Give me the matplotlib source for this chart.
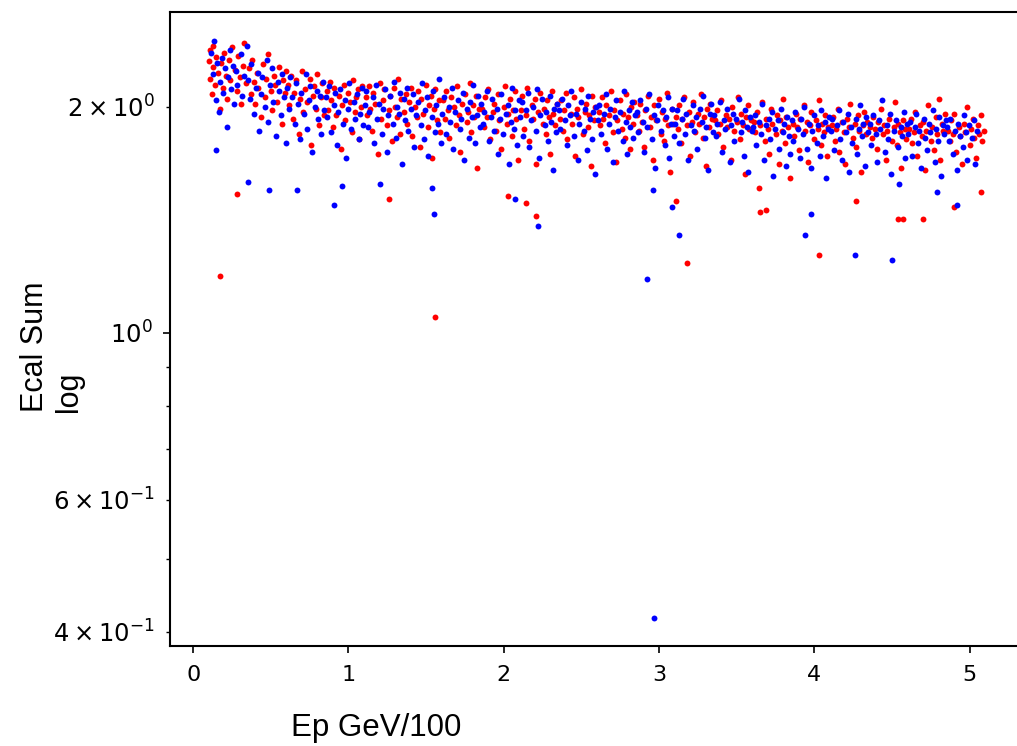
import matplotlib
matplotlib.use('Agg')
import matplotlib.pyplot as plt

# Ep GeV/100 und Ecal Sum (geschätzt)
red_x = [0.10,0.11,0.11,0.12,0.13,0.13,0.14,0.15,0.16,0.17,0.18,0.19,0.20,0.21,0.22,0.23,0.24,0.25,0.27,0.28,0.29,0.30,0.31,0.32,0.33,0.34,
         0.36,0.37,0.38,0.39,0.40,0.41,0.42,0.44,0.45,0.46,0.47,0.48,0.50,0.51,0.52,0.53,0.54,0.55,0.57,0.58,0.59,0.60,
         0.61,0.62,0.63,0.64,0.65,0.66,0.68,0.69,0.70,0.71,0.72,0.73,0.75,0.76,0.77,0.78,0.79,0.80,0.81,0.82,0.83,0.84,
         0.86,0.87,0.88,0.89,0.90,0.91,0.92,0.94,0.95,0.96,0.97,0.98,1.00,1.01,1.02,1.03,1.04,1.05,1.06,1.07,1.08,1.09,
         1.11,1.12,1.13,1.14,1.15,1.16,1.17,1.19,1.20,1.21,1.22,1.23,1.25,1.26,1.27,1.28,1.29,1.30,1.31,1.32,1.33,1.34,
         1.36,1.37,1.38,1.39,1.40,1.41,1.43,1.44,1.45,1.46,1.47,1.48,1.50,1.51,1.52,1.53,1.54,1.55,1.56,1.57,1.58,1.59,
         1.61,1.62,1.63,1.64,1.65,1.66,1.68,1.69,1.70,1.71,1.72,1.73,1.75,1.76,1.77,1.78,1.79,1.80,1.81,1.82,1.83,1.84,
         1.86,1.87,1.88,1.89,1.90,1.91,1.93,1.94,1.95,1.96,1.97,1.98,2.00,2.01,2.02,2.03,2.04,2.05,2.06,2.07,2.08,2.09,
         2.11,2.12,2.13,2.14,2.15,2.16,2.18,2.19,2.20,2.21,2.22,2.23,2.25,2.26,2.27,2.28,2.29,2.30,2.31,2.32,2.33,2.34,
         2.36,2.37,2.38,2.39,2.40,2.41,2.43,2.44,2.45,2.46,2.47,2.48,2.50,2.51,2.52,2.53,2.54,2.55,2.56,2.57,2.58,2.59,
         2.61,2.62,2.63,2.64,2.65,2.66,2.68,2.69,2.70,2.71,2.72,2.73,2.75,2.76,2.77,2.78,2.79,2.80,2.81,2.82,2.83,2.84,
         2.86,2.87,2.88,2.89,2.90,2.91,2.93,2.94,2.95,2.96,2.97,2.98,3.00,3.01,3.02,3.03,3.04,3.05,3.06,3.07,3.08,3.09,
         3.11,3.12,3.13,3.14,3.15,3.16,3.18,3.19,3.20,3.21,3.22,3.23,3.25,3.26,3.27,3.28,3.29,3.30,3.31,3.32,3.33,3.34,
         3.36,3.37,3.38,3.39,3.40,3.41,3.43,3.44,3.45,3.46,3.47,3.48,3.50,3.51,3.52,3.53,3.54,3.55,3.56,3.57,3.58,3.59,
         3.61,3.62,3.63,3.64,3.65,3.66,3.68,3.69,3.70,3.71,3.72,3.73,3.75,3.76,3.77,3.78,3.79,3.80,3.81,3.82,3.83,3.84,
         3.86,3.87,3.88,3.89,3.90,3.91,3.93,3.94,3.95,3.96,3.97,3.98,4.00,4.01,4.02,4.03,4.04,4.05,4.06,4.07,4.08,4.09,
         4.11,4.12,4.13,4.14,4.15,4.16,4.18,4.19,4.20,4.21,4.22,4.23,4.25,4.26,4.27,4.28,4.29,4.30,4.31,4.32,4.33,4.34,
         4.36,4.37,4.38,4.39,4.40,4.41,4.43,4.44,4.45,4.46,4.47,4.48,4.50,4.51,4.52,4.53,4.54,4.55,4.56,4.57,4.58,4.59,
         4.61,4.62,4.63,4.64,4.65,4.66,4.68,4.69,4.70,4.71,4.72,4.73,4.75,4.76,4.77,4.78,4.79,4.80,4.81,4.82,4.83,4.84,
         4.86,4.87,4.88,4.89,4.90,4.91,4.93,4.94,4.95,4.96,4.97,4.98,5.00,5.01,5.02,5.03,5.04,5.05,5.06,5.07,5.08,5.09]
red_y = [2.30,2.18,2.38,2.08,2.26,2.41,2.14,2.33,2.22,1.99,2.29,2.12,2.36,2.20,2.05,2.31,2.17,2.40,2.24,2.10,2.34,2.19,2.02,2.27,2.43,2.15,
         2.25,2.08,2.31,2.16,2.02,2.22,2.12,1.94,2.28,2.06,2.18,2.35,2.10,1.98,2.20,2.14,2.03,2.26,1.90,2.17,2.09,2.23,
         2.14,2.01,2.20,1.93,2.09,2.17,1.84,2.05,2.23,1.97,2.11,2.03,2.18,1.78,2.07,2.13,1.99,2.21,1.89,2.06,2.15,1.95,
         2.10,1.98,2.16,2.04,1.88,2.12,1.95,2.07,1.76,2.01,2.14,1.92,2.09,2.03,1.85,2.17,1.97,2.06,2.11,1.81,2.00,2.13,
         2.06,1.95,2.13,1.99,1.86,2.09,2.02,1.73,2.15,1.93,2.04,2.11,1.89,1.98,2.07,1.80,2.12,2.00,1.94,2.18,1.84,2.05,
         1.97,2.08,1.90,2.03,2.12,1.83,2.00,1.94,2.10,1.77,2.05,1.96,2.14,1.88,2.01,2.07,1.71,1.99,2.11,1.92,2.04,1.85,
         2.04,1.93,2.10,1.98,1.82,2.06,2.00,1.89,2.13,1.95,1.74,2.02,2.08,1.91,1.97,2.15,1.85,2.01,1.94,2.07,1.66,1.99,
         1.99,1.88,2.06,1.94,2.11,1.81,1.97,2.02,1.86,2.08,1.92,1.76,2.00,2.13,1.90,1.96,2.05,1.83,1.98,2.10,1.93,1.70,
         1.98,2.07,1.87,1.95,2.12,1.80,2.01,1.93,2.05,1.68,1.97,2.09,1.90,1.99,1.84,2.04,1.94,1.73,2.10,1.96,1.89,2.02,
         1.93,2.04,1.86,1.98,2.09,1.81,1.96,1.90,2.06,1.72,1.99,1.94,2.11,1.84,1.97,2.02,1.88,1.95,1.67,2.07,1.92,2.00,
         1.97,1.89,2.06,1.93,1.79,2.01,1.95,2.10,1.85,1.98,1.69,1.92,2.04,1.87,1.96,1.82,2.08,1.94,1.76,2.00,1.90,2.03,
         1.95,1.86,2.02,1.91,1.77,1.98,2.07,1.88,1.94,1.70,2.01,1.92,2.05,1.84,1.97,1.80,1.93,2.09,1.89,1.64,1.99,1.90,
         1.94,1.87,2.01,1.79,1.93,2.06,1.89,1.97,1.72,1.91,2.03,1.85,1.96,1.90,2.08,1.82,1.94,1.67,1.99,1.88,2.02,1.93,
         1.92,1.98,1.84,1.90,2.04,1.77,1.95,1.88,1.93,1.70,2.00,1.86,1.91,2.06,1.81,1.96,1.89,1.63,1.94,2.01,1.87,1.92,
         1.91,1.85,1.97,1.56,1.89,2.03,1.80,1.93,1.87,1.73,1.99,1.90,1.84,1.95,1.68,1.92,1.86,2.05,1.79,1.94,1.88,1.61,
         1.90,1.83,1.96,1.88,1.75,1.93,2.01,1.86,1.91,1.69,1.89,1.97,1.81,1.92,1.87,2.04,1.78,1.90,1.85,1.95,1.72,1.88,
         1.89,1.94,1.80,1.87,1.99,1.74,1.91,1.85,1.68,1.93,1.88,2.02,1.82,1.90,1.77,1.95,1.86,1.64,1.89,1.97,1.84,1.91,
         1.88,1.82,1.94,1.87,1.76,1.91,1.99,1.84,1.89,1.70,1.86,1.93,1.80,1.88,2.03,1.78,1.90,1.85,1.66,1.92,1.87,1.81,
         1.87,1.93,1.79,1.85,1.97,1.72,1.89,1.83,1.91,1.65,1.86,2.01,1.80,1.88,1.75,1.94,1.84,2.05,1.70,1.90,1.86,1.96,
         1.86,1.80,1.92,1.84,1.96,1.74,1.88,1.83,1.68,1.90,1.85,2.00,1.78,1.87,1.93,1.82,1.71,1.89,1.84,1.95,1.80,1.86]
# Ausreißer rot
red_out_x = [0.17,0.28,1.26,1.56,2.03,2.14,2.21,3.11,3.18,3.65,3.69,4.03,4.27,4.54,4.57,4.70,4.90,5.07]
red_out_y = [1.19,1.53,1.51,1.05,1.52,1.49,1.43,1.50,1.24,1.45,1.46,1.27,1.50,1.42,1.42,1.42,1.47,1.54]

blue_x = [0.115,0.125,0.135,0.145,0.155,0.165,0.175,0.185,0.195,0.205,0.215,0.225,0.235,0.245,0.255,0.265,0.275,0.285,0.305,0.315,0.325,0.345,
          0.355,0.365,0.375,0.395,0.405,0.415,0.425,0.435,0.445,0.465,0.475,0.485,0.495,0.505,0.515,0.535,0.545,0.555,0.565,0.575,0.585,0.595,
          0.605,0.615,0.625,0.635,0.655,0.665,0.675,0.685,0.695,0.715,0.725,0.735,0.745,0.755,0.765,0.785,0.795,0.805,0.815,0.825,0.835,0.845,
          0.855,0.865,0.875,0.885,0.905,0.915,0.925,0.935,0.945,0.965,0.975,0.985,0.995,1.005,1.015,1.035,1.045,1.055,1.065,1.075,1.085,1.095,
          1.105,1.115,1.125,1.135,1.155,1.165,1.175,1.185,1.195,1.215,1.225,1.235,1.245,1.255,1.265,1.285,1.295,1.305,1.315,1.325,1.335,1.345,
          1.355,1.365,1.375,1.385,1.405,1.415,1.425,1.435,1.445,1.465,1.475,1.485,1.495,1.505,1.515,1.535,1.545,1.555,1.565,1.575,1.585,1.595,
          1.605,1.615,1.625,1.645,1.655,1.665,1.675,1.685,1.705,1.715,1.725,1.735,1.745,1.765,1.775,1.785,1.795,1.805,1.815,1.825,1.835,1.845,
          1.855,1.865,1.875,1.895,1.905,1.915,1.925,1.935,1.955,1.965,1.975,1.985,1.995,2.015,2.025,2.035,2.045,2.055,2.065,2.075,2.085,2.095,
          2.105,2.115,2.125,2.145,2.155,2.165,2.175,2.185,2.205,2.215,2.225,2.235,2.245,2.265,2.275,2.285,2.295,2.305,2.315,2.325,2.335,2.345,
          2.355,2.365,2.375,2.395,2.405,2.415,2.425,2.435,2.455,2.465,2.475,2.485,2.495,2.515,2.525,2.535,2.545,2.555,2.565,2.575,2.585,2.595,
          2.605,2.615,2.625,2.645,2.655,2.665,2.675,2.685,2.705,2.715,2.725,2.735,2.745,2.765,2.775,2.785,2.795,2.805,2.815,2.825,2.835,2.845,
          2.855,2.865,2.875,2.895,2.905,2.915,2.925,2.935,2.955,2.965,2.975,2.985,2.995,3.015,3.025,3.035,3.045,3.055,3.065,3.075,3.085,3.095,
          3.105,3.115,3.125,3.145,3.155,3.165,3.175,3.185,3.205,3.215,3.225,3.235,3.245,3.265,3.275,3.285,3.295,3.305,3.315,3.325,3.335,3.345,
          3.355,3.365,3.375,3.395,3.405,3.415,3.425,3.435,3.455,3.465,3.475,3.485,3.495,3.515,3.525,3.535,3.545,3.555,3.565,3.575,3.585,3.595,
          3.605,3.615,3.625,3.645,3.655,3.665,3.675,3.685,3.705,3.715,3.725,3.735,3.745,3.765,3.775,3.785,3.795,3.805,3.815,3.825,3.835,3.845,
          3.855,3.865,3.875,3.895,3.905,3.915,3.925,3.935,3.955,3.965,3.975,3.985,3.995,4.015,4.025,4.035,4.045,4.055,4.065,4.075,4.085,4.095,
          4.105,4.115,4.125,4.145,4.155,4.165,4.175,4.185,4.205,4.215,4.225,4.235,4.245,4.265,4.275,4.285,4.295,4.305,4.315,4.325,4.335,4.345,
          4.355,4.365,4.375,4.395,4.405,4.415,4.425,4.435,4.455,4.465,4.475,4.485,4.495,4.515,4.525,4.535,4.545,4.555,4.565,4.575,4.585,4.595,
          4.605,4.615,4.625,4.645,4.655,4.665,4.675,4.685,4.705,4.715,4.725,4.735,4.745,4.765,4.775,4.785,4.795,4.805,4.815,4.825,4.835,4.845,
          4.855,4.865,4.875,4.895,4.905,4.915,4.925,4.935,4.955,4.965,4.975,4.985,4.995,5.015,5.025,5.035,5.045]
blue_y = [2.36,2.21,2.45,2.04,2.29,1.97,2.16,2.32,2.09,2.25,1.88,2.19,2.38,2.11,2.27,2.02,2.23,2.14,2.35,2.07,2.20,2.41,
          2.17,2.05,2.28,1.96,2.12,2.22,1.86,2.08,2.19,2.00,2.31,1.91,2.14,2.25,2.03,1.83,2.16,2.10,1.95,2.21,2.06,1.79,
          2.12,1.99,2.19,2.06,1.90,2.15,2.02,1.81,2.09,1.96,2.21,1.87,2.04,2.13,1.74,2.00,2.10,1.93,2.07,1.84,2.16,1.98,
          2.06,1.94,2.13,1.85,2.01,2.09,1.78,1.97,2.11,1.90,2.04,1.71,1.99,2.15,1.87,2.03,1.93,2.08,1.81,1.96,2.12,1.89,
          2.01,2.10,1.88,1.97,2.06,1.79,2.14,1.93,2.02,1.84,1.99,2.11,1.74,1.95,2.07,1.90,2.16,1.82,2.00,1.96,2.09,1.68,
          2.05,1.92,2.12,1.86,1.99,2.08,1.77,1.95,2.03,1.89,2.15,1.81,1.98,2.06,1.72,1.94,2.10,1.85,2.01,1.90,2.18,1.79,
          1.96,2.06,1.84,2.00,1.91,2.12,1.76,1.97,2.04,1.87,1.93,2.09,1.70,1.99,1.82,2.03,1.94,2.14,1.79,1.95,2.07,1.88,
          2.02,1.90,1.97,2.10,1.80,1.94,2.05,1.86,1.99,1.73,1.93,2.08,1.84,1.96,2.01,1.68,1.91,2.12,1.87,1.98,1.78,2.04,
          1.94,2.03,1.83,1.98,2.09,1.77,1.92,2.00,1.86,2.11,1.71,1.95,2.05,1.89,1.97,1.80,2.07,1.91,1.65,1.99,1.85,2.02,
          1.98,1.87,2.05,1.92,1.78,2.01,1.95,2.10,1.83,1.96,1.70,1.90,2.03,1.86,1.99,1.75,2.07,1.93,1.81,1.97,1.63,2.00,
          1.92,2.01,1.84,1.96,2.08,1.76,1.90,1.99,1.69,1.94,2.04,1.86,1.97,1.80,2.10,1.91,1.73,1.98,1.88,2.03,1.82,1.95,
          1.97,1.85,2.04,1.91,1.74,1.99,1.88,2.08,1.81,1.95,1.66,1.92,2.01,1.86,1.98,1.78,1.94,2.06,1.71,1.90,1.99,1.83,
          1.90,1.98,1.79,1.93,2.05,1.84,1.96,1.70,1.89,2.01,1.86,1.94,1.76,1.99,1.91,2.07,1.82,1.88,1.65,1.96,2.02,1.85,
          1.95,1.83,1.90,2.03,1.74,1.92,1.87,1.99,1.69,1.89,1.96,1.80,1.93,2.05,1.85,1.91,1.72,1.98,1.88,1.64,1.94,1.86,
          1.88,1.95,1.78,1.91,1.84,2.02,1.70,1.89,1.93,1.81,1.97,1.62,1.87,1.92,1.76,1.99,1.85,1.90,1.67,1.94,1.83,1.73,
          1.92,1.80,1.97,1.87,1.71,1.93,1.84,2.00,1.76,1.90,1.66,1.86,1.95,1.79,1.89,1.72,1.98,1.83,1.91,1.61,1.87,1.94,
          1.86,1.93,1.75,1.89,1.98,1.81,1.70,1.91,1.85,1.96,1.64,1.88,1.79,1.93,1.73,1.87,2.01,1.83,1.90,1.67,1.94,1.85,
          1.90,1.78,1.95,1.84,1.69,1.92,1.87,2.04,1.74,1.89,1.81,1.96,1.63,1.86,1.92,1.77,1.58,1.88,1.83,1.97,1.71,1.90,
          1.84,1.91,1.72,1.88,1.96,1.79,1.86,1.66,1.93,1.82,1.75,1.90,1.85,1.98,1.69,1.87,1.80,1.94,1.62,1.89,1.84,1.92,
          1.88,1.80,1.93,1.73,1.86,1.65,1.90,1.83,1.77,1.95,1.85,1.70,1.89,1.82,1.92,1.68,1.86]
# Ausreißer blau
blue_out_x = [0.15,0.35,0.49,0.67,0.91,0.96,1.20,1.54,1.55,2.07,2.22,2.92,2.96,2.97,3.08,3.13,3.94,3.98,4.26,4.50,4.79,4.92]
blue_out_y = [1.75,1.59,1.55,1.55,1.48,1.57,1.58,1.56,1.44,1.51,1.39,1.18,1.55,0.418,1.47,1.35,1.35,1.44,1.27,1.25,1.54,1.48]

fig = plt.figure(figsize=(10.17, 7.46), dpi=100)
ax = fig.add_axes([0.167, 0.134, 0.840, 0.850])

ax.scatter(red_x + red_out_x, red_y + red_out_y, s=18, color='red', linewidths=0)
ax.scatter(blue_x + blue_out_x, blue_y + blue_out_y, s=18, color='blue', linewidths=0)

ax.set_yscale('log')
ax.set_xlim(-0.15, 5.35)
ax.set_ylim(0.383, 2.676)

for sp in ax.spines.values():
    sp.set_linewidth(1.5)
ax.tick_params(axis='x', which='major', labelsize=16, width=1.2, length=5, pad=9)
ax.tick_params(axis='y', which='major', labelsize=17.5, width=1.2, length=5, pad=7.5)
ax.tick_params(axis='y', which='minor', labelsize=17.5, width=1.0, length=3, pad=7.5)

ax.set_xlabel('Ep GeV/100', fontsize=22.5, family='Liberation Sans')
ax.xaxis.set_label_coords(0.242, -0.105)
ax.set_ylabel('Ecal Sum\nlog', fontsize=22, family='Liberation Sans', multialignment='left')
ax.yaxis.set_label_coords(-0.10, 0.472)

plt.savefig('out.png', dpi=100)
